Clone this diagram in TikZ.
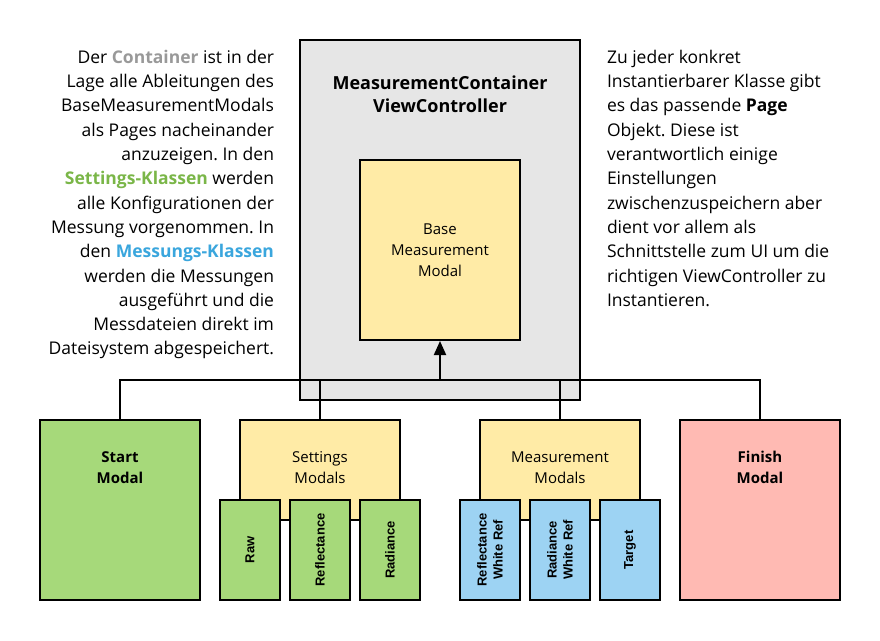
\documentclass[tikz,border=0pt]{standalone}
\usepackage{fontspec}
\setmainfont{Open Sans}
\newfontfamily\arialfont{Liberation Sans}
\usetikzlibrary{arrows.meta,positioning}
\frenchspacing
\definecolor{containergray}{RGB}{230,230,230}
\definecolor{modalyellow}{RGB}{255,235,166}
\definecolor{modalgreen}{RGB}{166,217,122}
\definecolor{modalblue}{RGB}{157,211,243}
\definecolor{modalpink}{RGB}{255,186,179}
\definecolor{textgray}{RGB}{153,153,153}
\definecolor{textgreen}{RGB}{122,182,72}
\definecolor{textblue}{RGB}{58,166,221}

\begin{document}
\begin{tikzpicture}[x=1pt,y=-1pt, line width=2pt,
  box/.style={draw, line width=2pt, inner sep=0pt, align=center},
  bigbox/.style={box, minimum width=160pt, minimum height=180pt},
  groupbox/.style={box, fill=modalyellow, minimum width=160pt, minimum height=100pt},
  subbox/.style={box, rotate=90, minimum width=100pt, minimum height=60pt,
    font=\arialfont\bfseries\fontsize{13}{16}\selectfont},
  boxtitle/.style={align=center, inner sep=0pt, font=\bfseries\fontsize{15}{21}\selectfont},
  grouptitle/.style={align=center, inner sep=0pt, font=\fontsize{15}{21}\selectfont},
  note/.style={inner sep=0pt, font=\fontsize{17.5}{24.3}\selectfont}]
\useasboundingbox (0,0) rectangle (880,640);

% container with the base class
\node[box, fill=containergray, minimum width=280pt, minimum height=360pt] (container) at (440,220) {};
\node[boxtitle, font=\bfseries\fontsize{18}{23}\selectfont] (containertitle) at (440,94.5)
  {MeasurementContainer\\ViewController};
\node[bigbox, fill=modalyellow, font=\fontsize{15}{21}\selectfont] (base) at (440,250)
  {Base\\Measurement\\Modal};

% derived modals
\node[bigbox, fill=modalgreen] (start) at (120,510) {};
\node[boxtitle] (starttitle) at (120,467.5) {Start\\Modal};
\node[bigbox, fill=modalpink] (finish) at (760,510) {};
\node[boxtitle] (finishtitle) at (760,467.5) {Finish\\Modal};

\node[groupbox] (settings) at (320,470) {};
\node[grouptitle] (settingstitle) at (320,467.5) {Settings\\Modals};
\node[groupbox] (measure) at (560,470) {};
\node[grouptitle] (measuretitle) at (560,467.5) {Measurement\\Modals};

\node[subbox, fill=modalgreen] (raw) at (250,550) {Raw};
\node[subbox, fill=modalgreen] (refl) at (320,550) {Reflectance};
\node[subbox, fill=modalgreen] (rad) at (390,550) {Radiance};
\node[subbox, fill=modalblue] (reflwr) at (490,550) {Reflectance\\White Ref};
\node[subbox, fill=modalblue] (radwr) at (560,550) {Radiance\\White Ref};
\node[subbox, fill=modalblue] (target) at (630,550) {Target};

% inheritance lines
\coordinate (bus) at (440,380);
\draw (start.north) |- (bus) -| (finish.north);
\draw (settings.north) -- (settings.north |- bus);
\draw (measure.north) -- (measure.north |- bus);
\draw[-{Triangle[width=12pt,length=14pt]}] (bus) -- (base.south);

% notes
\node[note, align=right, anchor=north east] (lefttext) at (275,49)
  {Der \textbf{\color{textgray}Container} ist in der\\
   Lage alle Ableitungen des\\
   BaseMeasurementModals\\
   als Pages nacheinander\\
   anzuzeigen. In den\\
   \textbf{\color{textgreen}Settings-Klassen} werden\\
   alle Konfigurationen der\\
   Messung vorgenommen. In\\
   den \textbf{\color{textblue}Messungs-Klassen}\\
   werden die Messungen\\
   ausgeführt und die\\
   Messdateien direkt im\\
   Dateisystem abgespeichert.};
\node[note, align=left, anchor=north west] (righttext) at (606,49)
  {Zu jeder konkret\\
   Instantierbarer Klasse gibt\\
   es das passende \textbf{Page}\\
   Objekt. Diese ist\\
   verantwortlich einige\\
   Einstellungen\\
   zwischenzuspeichern aber\\
   dient vor allem als\\
   Schnittstelle zum UI um die\\
   richtigen ViewController zu\\
   Instantieren.};
\end{tikzpicture}
\end{document}
